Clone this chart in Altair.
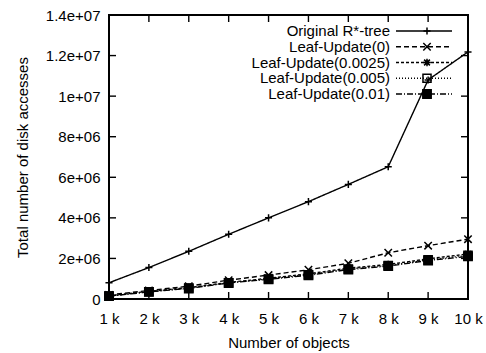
import altair as alt
import pandas as pd

# ---------------- data ----------------
objects_k = [1, 2, 3, 4, 5, 6, 7, 8, 9, 10]
series_names = [
    "Original R*-tree",
    "Leaf-Update(0)",
    "Leaf-Update(0.0025)",
    "Leaf-Update(0.005)",
    "Leaf-Update(0.01)",
]
original = [0.80e6, 1.55e6, 2.35e6, 3.19e6, 4.00e6, 4.80e6, 5.65e6, 6.52e6, 10.8e6, 12.18e6]
leaf_0 = [0.20e6, 0.42e6, 0.63e6, 0.93e6, 1.18e6, 1.44e6, 1.76e6, 2.28e6, 2.63e6, 2.95e6]
leaf_0025 = [0.16e6, 0.38e6, 0.56e6, 0.82e6, 1.02e6, 1.24e6, 1.52e6, 1.70e6, 1.98e6, 2.22e6]
leaf_005 = [0.15e6, 0.36e6, 0.54e6, 0.80e6, 0.99e6, 1.20e6, 1.48e6, 1.65e6, 1.93e6, 2.15e6]
leaf_01 = [0.14e6, 0.35e6, 0.52e6, 0.79e6, 0.97e6, 1.17e6, 1.45e6, 1.62e6, 1.90e6, 2.10e6]
series_values = [original, leaf_0, leaf_0025, leaf_005, leaf_01]

x_tick_values = [1, 2, 3, 4, 5, 6, 7, 8, 9, 10]
x_tick_labels = ["1 k", "2 k", "3 k", "4 k", "5 k", "6 k", "7 k", "8 k", "9 k", "10 k"]
y_tick_values = [0, 2000000, 4000000, 6000000, 8000000, 10000000, 12000000, 14000000]
y_tick_labels = ["0", "2e+06", "4e+06", "6e+06", "8e+06", "1e+07", "1.2e+07", "1.4e+07"]

# ---------------- styles ----------------
dash_styles = [[1, 0], [5, 3], [3, 2], [1, 2], [6, 2, 1, 2]]
shapes = [
    "M-1,0L1,0M0,-1L0,1",
    "M-1,-1L1,1M-1,1L1,-1",
    "M-1,0L1,0M0,-1L0,1M-0.75,-0.75L0.75,0.75M-0.75,0.75L0.75,-0.75",
    "square",
    "square",
]
fills = ["transparent", "transparent", "black", "transparent", "black"]
sizes = [50, 70, 80, 80, 90]

W, H = 359, 284
FONT = "Liberation Sans"

rows = []
for name, vals in zip(series_names, series_values):
    for k, v in zip(objects_k, vals):
        rows.append({"series": name, "k": k, "value": v})
df = pd.DataFrame(rows)

legend_df = pd.DataFrame({"series": series_names, "row": list(range(len(series_names)))})
xt_df = pd.DataFrame({"k": x_tick_values})
yt_df = pd.DataFrame({"value": y_tick_values})


def label_expr(vals, labels):
    expr = "''"
    for v, l in reversed(list(zip(vals, labels))):
        expr = f"datum.value == {v} ? '{l}' : ({expr})"
    return expr


x_enc = alt.X(
    "k:Q",
    scale=alt.Scale(domain=[1, 10], nice=False, zero=False),
    axis=alt.Axis(
        values=x_tick_values,
        labelExpr=label_expr(x_tick_values, x_tick_labels),
        labelOverlap=False,
        labelFlush=False,
        labelAlign="center",
        title="Number of objects",
        labelBaseline="alphabetic",
        labelPadding=24,
        titleBaseline="alphabetic",
        titleY=48,
    ),
)
y_enc = alt.Y(
    "value:Q",
    scale=alt.Scale(domain=[0, 14000000], nice=False),
    axis=alt.Axis(
        values=y_tick_values,
        labelExpr=label_expr(y_tick_values, y_tick_labels),
        labelOverlap=False,
        labelFlush=False,
        title="Total number of disk accesses",
        labelPadding=9,
        labelBaseline="middle",
        titleBaseline="alphabetic",
        titleAngle=270,
        titleX=-82,
        titleY=H / 2,
        titleAlign="center",
    ),
)

dash_scale = alt.Scale(domain=series_names, range=dash_styles)
shape_scale = alt.Scale(domain=series_names, range=shapes)
fill_scale = alt.Scale(domain=series_names, range=fills)
size_scale = alt.Scale(domain=series_names, range=sizes)

lines = alt.Chart(df).mark_line(color="black", strokeWidth=1.4).encode(
    x=x_enc,
    y=y_enc,
    strokeDash=alt.StrokeDash("series:N", scale=dash_scale, legend=None),
    order="k:Q",
)
points = alt.Chart(df).mark_point(stroke="black", strokeWidth=1.5, opacity=1).encode(
    x=x_enc,
    y=y_enc,
    shape=alt.Shape("series:N", scale=shape_scale, legend=None),
    fill=alt.Fill("series:N", scale=fill_scale, legend=None),
    size=alt.Size("series:N", scale=size_scale, legend=None),
)

tick_style = dict(color="black", strokeWidth=1.4)
left_ticks = alt.Chart(yt_df).mark_rule(**tick_style).encode(
    y=y_enc, x=alt.value(0), x2=alt.value(7)
)
right_ticks = alt.Chart(yt_df).mark_rule(**tick_style).encode(
    y=y_enc, x=alt.value(W - 7), x2=alt.value(W)
)
bottom_ticks = alt.Chart(xt_df).mark_rule(**tick_style).encode(
    x=x_enc, y=alt.value(H - 7), y2=alt.value(H)
)
top_ticks = alt.Chart(xt_df).mark_rule(**tick_style).encode(
    x=x_enc, y=alt.value(0), y2=alt.value(7)
)

main = alt.layer(left_ticks, right_ticks, bottom_ticks, top_ticks, lines, points)

leg_y = alt.Y(
    "row:Q",
    scale=alt.Scale(domain=[0, len(series_names) - 1], range=[16, 79], nice=False, zero=False),
    axis=None,
)
leg_text = alt.Chart(legend_df).mark_text(
    align="right", baseline="middle", font=FONT, fontSize=15, color="black"
).encode(y=leg_y, x=alt.value(281), text="series:N")
leg_rule = alt.Chart(legend_df).mark_rule(color="black", strokeWidth=1.4).encode(
    y=leg_y,
    x=alt.value(287),
    x2=alt.value(343),
    strokeDash=alt.StrokeDash("series:N", scale=dash_scale, legend=None),
)
leg_pt = alt.Chart(legend_df).mark_point(stroke="black", strokeWidth=1.5, opacity=1).encode(
    y=leg_y,
    x=alt.value(318),
    shape=alt.Shape("series:N", scale=shape_scale, legend=None),
    fill=alt.Fill("series:N", scale=fill_scale, legend=None),
    size=alt.Size("series:N", scale=size_scale, legend=None),
)
leg = alt.layer(leg_text, leg_rule, leg_pt)

chart = (
    alt.layer(main, leg)
    .resolve_scale(y="independent")
    .properties(
        width=W,
        height=H,
        autosize=alt.AutoSizeParams(type="none"),
        padding={"left": 109, "top": 15, "right": 18, "bottom": 54},
        background="white",
    )
    .configure_view(stroke="black", strokeWidth=2)
    .configure_axis(
        labelFont=FONT,
        labelFontSize=15,
        labelColor="black",
        titleFont=FONT,
        titleFontSize=15,
        titleFontWeight="normal",
        titleColor="black",
        domain=False,
        ticks=False,
        tickSize=0,
        grid=False,
    )
)

chart.save("out.html", embed_options={"renderer": "svg", "actions": False})
